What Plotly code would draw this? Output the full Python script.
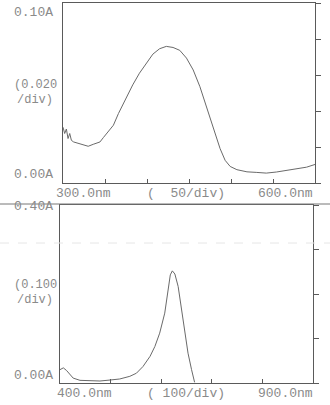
import plotly.graph_objects as go

# ---- data: top spectrum (300-600 nm, 0.020 A/div)
wl_top = [300, 302, 304, 306, 308, 310, 312.7, 316, 322, 330, 336, 344, 348, 354, 360,
          366, 372, 377.5, 383, 391, 399, 407, 415, 423, 431, 439, 447, 455, 463, 471,
          479, 487, 493, 499, 507, 519, 530, 542, 554, 566, 578, 590, 600]
abs_top = [0.031, 0.0275, 0.030, 0.0247, 0.0275, 0.0237, 0.0228, 0.0223, 0.0215, 0.0204,
           0.0215, 0.0228, 0.0252, 0.0284, 0.0321, 0.0386, 0.0442, 0.0489, 0.0545, 0.061,
           0.0666, 0.0716, 0.0746, 0.0759, 0.0753, 0.0737, 0.0694, 0.0628, 0.0535, 0.0424,
           0.0303, 0.0191, 0.0126, 0.0092, 0.0074, 0.0062, 0.0059, 0.0055, 0.0061, 0.0070,
           0.0079, 0.0088, 0.0103]

# ---- data: bottom spectrum (400-900 nm, 0.100 A/div)
wl_bot = [400, 406.6, 413, 420, 426, 439.5, 459, 479, 499, 518, 538, 551, 564, 578,
          587.5, 597, 607, 614, 618, 622, 627, 633.5, 640, 647, 653, 660, 666]
abs_bot = [0.030, 0.034, 0.028, 0.019, 0.011, 0.006, 0.0045, 0.0045, 0.0067, 0.009,
           0.015, 0.022, 0.037, 0.060, 0.082, 0.112, 0.157, 0.209, 0.243, 0.252, 0.245,
           0.217, 0.164, 0.112, 0.067, 0.030, 0.0015]

top_xticks = [300, 350, 400, 450, 500, 550, 600]
top_yticks = [0, 0.02, 0.04, 0.06, 0.08, 0.10]
bot_xticks = [400, 500, 600, 700, 800, 900]
bot_yticks = [0, 0.1, 0.2, 0.3, 0.4]

top_labels = {"ymax": "0.10A", "ymin": "0.00A", "ydiv1": "(0.020", "ydiv2": "/div)",
              "xmin": "300.0nm", "xdiv": "(  50/div)", "xmax": "600.0nm"}
bot_labels = {"ymax": "0.40A", "ymin": "0.00A", "ydiv1": "(0.100", "ydiv2": "/div)",
              "xmin": "400.0nm", "xdiv": "( 100/div)", "xmax": "900.0nm"}

W, H = 330, 405
LINE = "#5a5a5a"
TXT = "#8a8a8a"
FONT = "Liberation Mono"

def px(x):
    return x / W

def py(y):
    return 1 - y / H

fig = go.Figure()
fig.add_trace(go.Scatter(x=wl_top, y=abs_top, mode="lines",
                         line=dict(color="#6a6a6a", width=1), xaxis="x", yaxis="y",
                         showlegend=False))
fig.add_trace(go.Scatter(x=wl_bot, y=abs_bot, mode="lines",
                         line=dict(color="#6a6a6a", width=1), xaxis="x2", yaxis="y2",
                         showlegend=False))

axcommon = dict(showgrid=False, zeroline=False, showline=True, linecolor=LINE,
                linewidth=1, mirror=True, showticklabels=False, tickcolor=LINE,
                tickwidth=1)

fig.update_layout(
    width=W, height=H, margin=dict(l=0, r=0, t=0, b=0),
    paper_bgcolor="white", plot_bgcolor="white",
    xaxis=dict(domain=[px(63), px(315)], range=[300, 600], tickvals=top_xticks,
               ticks="inside", ticklen=4, anchor="y", **axcommon),
    yaxis=dict(domain=[py(183), py(3)], range=[0, 0.1], tickvals=top_yticks,
               ticks="outside", ticklen=5, side="right", anchor="x", **axcommon),
    xaxis2=dict(domain=[px(60), px(313)], range=[400, 900], tickvals=bot_xticks,
                ticks="inside", ticklen=4, anchor="y2", **axcommon),
    yaxis2=dict(domain=[py(383), py(205)], range=[0, 0.4], tickvals=bot_yticks,
                ticks="outside", ticklen=5, side="right", anchor="x2", **axcommon),
)

def add_text(text, x, y, xanchor, size=13):
    fig.add_annotation(text=text, x=px(x), y=py(y), xref="paper", yref="paper",
                       xanchor=xanchor, yanchor="middle", showarrow=False,
                       font=dict(family=FONT, size=size, color=TXT))

def add_labels(lab, ytop, ybot, ymid, xlab_y, xl, xr):
    add_text(lab["ymax"], 55, ytop, "right")
    add_text(lab["ymin"], 55, ybot, "right")
    add_text(lab["ydiv1"], 12, ymid - 7, "left", 12)
    add_text(lab["ydiv2"], 15, ymid + 8, "left", 12)
    add_text(lab["xmin"], xl - 9, xlab_y, "left")
    add_text(lab["xdiv"], 186, xlab_y, "center")
    add_text(lab["xmax"], xr, xlab_y, "right")

add_labels(top_labels, 12, 175, 92, 193, 63, 315)
add_labels(bot_labels, 206, 375, 292, 393, 64, 315)

# separator line across the page and faint scan streak
fig.add_shape(type="line", xref="paper", yref="paper", x0=0, x1=1,
              y0=py(204), y1=py(204), line=dict(color="#777777", width=1))
fig.add_shape(type="line", xref="paper", yref="paper", x0=0, x1=1,
              y0=py(243), y1=py(243), line=dict(color="#e6e6e6", width=1, dash="dash"))

fig.write_html("out.html")
